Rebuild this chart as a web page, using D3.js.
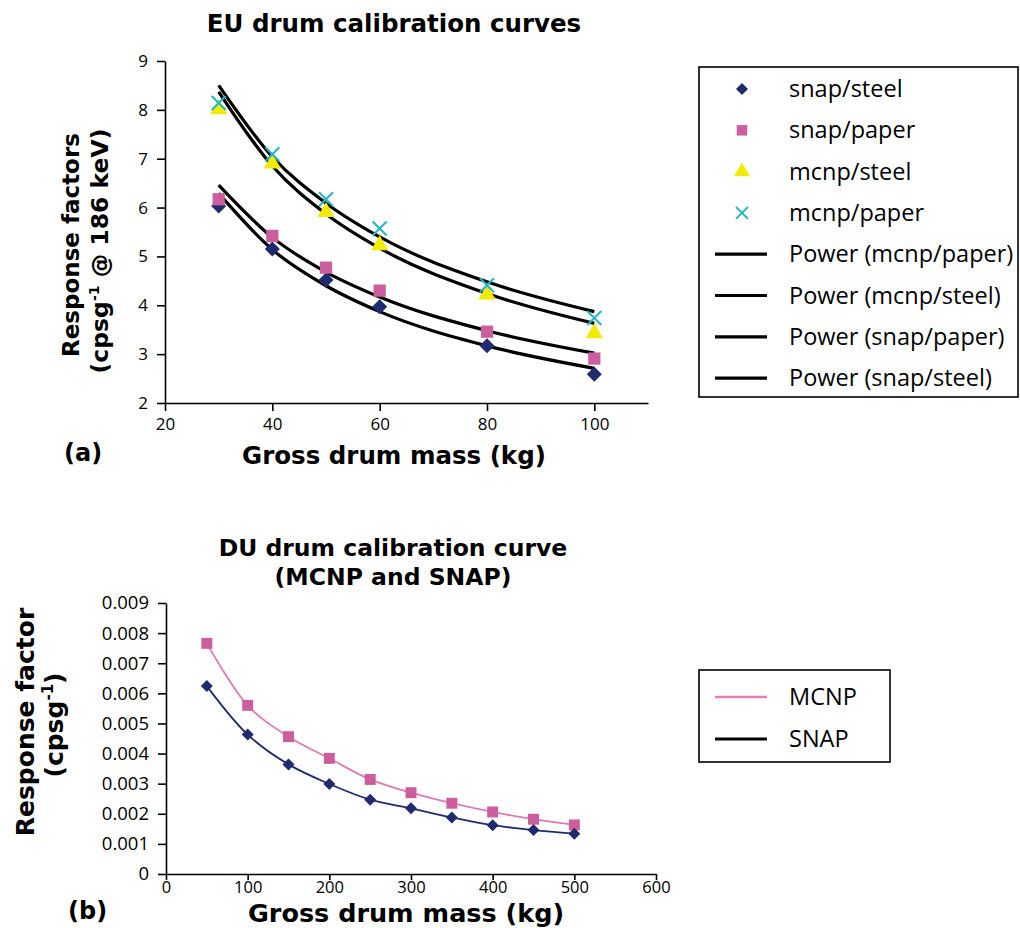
<!DOCTYPE html>
<html>
<head>
<meta charset="utf-8">
<script src="https://cdn.jsdelivr.net/npm/d3@7"></script>
<style>
  body { margin: 0; background: #fff; }
  svg { font-family: "Open Sans", "Noto Sans", sans-serif; }
  .bold { font-family: "DejaVu Sans", sans-serif; font-weight: 700; }
</style>
</head>
<body>
<div id="chart"></div>
<script>
// ---- data (a): EU drums ----
const massEU = [30, 40, 50, 60, 80, 100];
const snapSteel = [6.03, 5.15, 4.52, 3.97, 3.17, 2.59];
const snapPaper = [6.17, 5.42, 4.77, 4.30, 3.46, 2.91];
const mcnpSteel = [8.01, 6.90, 5.91, 5.23, 4.22, 3.43];
const mcnpPaper = [8.14, 7.09, 6.17, 5.57, 4.41, 3.74];
// power trend lines at the same masses
const trendMcnpPaper = [8.50, 7.04, 6.09, 5.40, 4.48, 3.87];
const trendMcnpSteel = [8.37, 6.85, 5.87, 5.17, 4.24, 3.63];
const trendSnapPaper = [6.46, 5.39, 4.68, 4.17, 3.48, 3.02];
const trendSnapSteel = [6.29, 5.14, 4.40, 3.87, 3.17, 2.71];
const ticksXa = [20, 40, 60, 80, 100];
const ticksYa = [2, 3, 4, 5, 6, 7, 8, 9];

// ---- data (b): DU drums ----
const massDU = [50, 100, 150, 200, 250, 300, 350, 400, 450, 500];
const mcnpDU = [0.00766, 0.00560, 0.00456, 0.00384, 0.00314, 0.00270, 0.00235, 0.00206, 0.00182, 0.00163];
const snapDU = [0.00624, 0.00463, 0.00364, 0.00299, 0.00247, 0.00218, 0.00188, 0.00162, 0.00146, 0.00134];
const ticksXb = [0, 100, 200, 300, 400, 500, 600];
const ticksYb = [0, 0.001, 0.002, 0.003, 0.004, 0.005, 0.006, 0.007, 0.008, 0.009];

const navy = "#1f2b6e", pink = "#cc5e9e", yellow = "#f2ea00", cyan = "#22b5c8";

const svg = d3.select("#chart").append("svg")
    .attr("width", 1020)
    .attr("height", 928);

// diamond shaped like a rotated square
const diamondPath = r => `M0,${-r}L${r},0L0,${r}L${-r},0Z`;

function styleAxis(g, size) {
    g.selectAll("text").attr("font-size", size).attr("font-family", "Open Sans").attr("fill", "#000");
    g.selectAll(".domain, .tick line").attr("stroke", "#000").attr("stroke-width", 1.6);
}

// ===================== chart (a) =====================
const xa = d3.scaleLinear().domain([20, 110]).range([165, 648]);
const ya = d3.scaleLinear().domain([2, 9]).range([403, 61]);

const ga = svg.append("g");

ga.append("g")
    .attr("transform", "translate(0,403)")
    .call(d3.axisBottom(xa).tickValues(ticksXa).tickSize(8).tickSizeOuter(0).tickPadding(7))
    .call(g => styleAxis(g, 17));

ga.append("g")
    .attr("transform", "translate(165,0)")
    .call(d3.axisLeft(ya).tickValues(ticksYa).tickFormat(d3.format("d")).tickSize(8).tickSizeOuter(0).tickPadding(9))
    .call(g => styleAxis(g, 17));

const trendLine = d3.line()
    .x((d, i) => xa(massEU[i]))
    .y(d => ya(d))
    .curve(d3.curveMonotoneX);

[trendMcnpPaper, trendMcnpSteel, trendSnapPaper, trendSnapSteel].forEach(t => {
    ga.append("path")
        .attr("d", trendLine(t))
        .attr("fill", "none")
        .attr("stroke", "#000")
        .attr("stroke-width", 3.2);
});

const square = d3.symbol().type(d3.symbolSquare).size(150);
const triangle = d3.symbol().type(d3.symbolTriangle).size(130);

function drawSymbols(g, xs, vals, sym, color, xs2, ys2) {
    g.selectAll(null)
        .data(vals)
        .enter()
        .append("path")
        .attr("d", sym)
        .attr("transform", (d, i) => `translate(${xs2(xs[i])},${ys2(d)})`)
        .attr("fill", color);
}

function drawCross(g, xs, vals, color, size, xs2, ys2) {
    g.selectAll(null).data(vals).enter().append("path")
        .attr("transform", (d, i) => `translate(${xs2(xs[i])},${ys2(d)})`)
        .attr("d", `M${-size},${-size}L${size},${size}M${-size},${size}L${size},${-size}`)
        .attr("stroke", color)
        .attr("stroke-width", 2);
}

drawSymbols(ga, massEU, snapSteel, diamondPath(7.5), navy, xa, ya);
drawSymbols(ga, massEU, snapPaper, square, pink, xa, ya);
drawSymbols(ga, massEU, mcnpSteel, triangle, yellow, xa, ya);
drawCross(ga, massEU, mcnpPaper, cyan, 7, xa, ya);

// titles (a)
svg.append("text").attr("class", "bold")
    .attr("x", 394).attr("y", 32)
    .attr("text-anchor", "middle")
    .attr("font-size", 24.5)
    .text("EU drum calibration curves");

svg.append("text").attr("class", "bold")
    .attr("x", 394).attr("y", 464)
    .attr("text-anchor", "middle")
    .attr("font-size", 24.5)
    .text("Gross drum mass (kg)");

svg.append("text").attr("class", "bold")
    .attr("x", 64).attr("y", 461)
    .attr("font-size", 24)
    .text("(a)");

svg.append("text").attr("class", "bold")
    .attr("transform", "translate(79,245) rotate(-90)")
    .attr("text-anchor", "middle")
    .attr("font-size", 23)
    .text("Response factors");

const yt2 = svg.append("text").attr("class", "bold")
    .attr("transform", "translate(108,251) rotate(-90)")
    .attr("text-anchor", "middle")
    .attr("font-size", 23.5);
yt2.append("tspan").text("(cpsg");
yt2.append("tspan").attr("font-size", 14).attr("dy", -9).text("-1");
yt2.append("tspan").attr("dy", 9).text(" @ 186 keV)");

// legend (a)
const legA = svg.append("g");
legA.append("rect")
    .attr("x", 699).attr("y", 67).attr("width", 319).attr("height", 330)
    .attr("fill", "none").attr("stroke", "#000").attr("stroke-width", 1.6);

const legAItems = [
    { label: "snap/steel", kind: "diamond", color: navy },
    { label: "snap/paper", kind: "square", color: pink },
    { label: "mcnp/steel", kind: "triangle", color: yellow },
    { label: "mcnp/paper", kind: "cross", color: cyan },
    { label: "Power (mcnp/paper)", kind: "line", color: "#000" },
    { label: "Power (mcnp/steel)", kind: "line", color: "#000" },
    { label: "Power (snap/paper)", kind: "line", color: "#000" },
    { label: "Power (snap/steel)", kind: "line", color: "#000" }
];

legAItems.forEach((it, i) => {
    const cy = 89 + i * 41.3;
    const row = legA.append("g").attr("transform", `translate(742,${cy})`);
    if (it.kind === "diamond") row.append("path").attr("d", diamondPath(6)).attr("fill", it.color);
    if (it.kind === "square") row.append("path").attr("d", d3.symbol().type(d3.symbolSquare).size(110)).attr("fill", it.color);
    if (it.kind === "triangle") row.append("path").attr("d", d3.symbol().type(d3.symbolTriangle).size(110)).attr("fill", it.color);
    if (it.kind === "cross") row.append("path").attr("d", "M-6,-6L6,6M-6,6L6,-6").attr("stroke", it.color).attr("stroke-width", 2);
    if (it.kind === "line") row.append("line").attr("x1", -27).attr("x2", 25).attr("stroke", it.color).attr("stroke-width", 3.2);
    row.append("text")
        .attr("x", 47).attr("y", 8)
        .attr("font-size", 23.5)
        .text(it.label);
});

// ===================== chart (b) =====================
const xb = d3.scaleLinear().domain([0, 600]).range([166, 656]);
const yb = d3.scaleLinear().domain([0, 0.009]).range([874, 603]);

const gb = svg.append("g");

gb.append("g")
    .attr("transform", "translate(0,874)")
    .call(d3.axisBottom(xb).tickValues(ticksXb).tickSize(6).tickSizeOuter(0).tickPadding(1))
    .call(g => styleAxis(g, 16.5));

gb.append("g")
    .attr("transform", "translate(166,0)")
    .call(d3.axisLeft(yb).tickValues(ticksYb).tickFormat(d => d === 0 ? "0" : d3.format(".3f")(d)).tickSize(8).tickSizeOuter(0).tickPadding(9))
    .call(g => styleAxis(g, 18.5));

const lineB = d3.line()
    .x((d, i) => xb(massDU[i]))
    .y(d => yb(d))
    .curve(d3.curveCatmullRom);

gb.append("path").attr("d", lineB(mcnpDU))
    .attr("fill", "none").attr("stroke", "#e07ab6").attr("stroke-width", 1.8);
gb.append("path").attr("d", lineB(snapDU))
    .attr("fill", "none").attr("stroke", navy).attr("stroke-width", 1.8);

drawSymbols(gb, massDU, mcnpDU, d3.symbol().type(d3.symbolSquare).size(120), pink, xb, yb);
drawSymbols(gb, massDU, snapDU, diamondPath(6), navy, xb, yb);

// titles (b)
svg.append("text").attr("class", "bold")
    .attr("x", 393).attr("y", 556)
    .attr("text-anchor", "middle")
    .attr("font-size", 23.5)
    .text("DU drum calibration curve");
svg.append("text").attr("class", "bold")
    .attr("x", 393).attr("y", 585)
    .attr("text-anchor", "middle")
    .attr("font-size", 23.5)
    .text("(MCNP and SNAP)");

svg.append("text").attr("class", "bold")
    .attr("x", 406).attr("y", 921.5)
    .attr("text-anchor", "middle")
    .attr("font-size", 25.5)
    .text("Gross drum mass (kg)");

svg.append("text").attr("class", "bold")
    .attr("x", 68).attr("y", 919)
    .attr("font-size", 24)
    .text("(b)");

svg.append("text").attr("class", "bold")
    .attr("transform", "translate(34,722) rotate(-90)")
    .attr("text-anchor", "middle")
    .attr("font-size", 25)
    .text("Response factor");

const yb2 = svg.append("text").attr("class", "bold")
    .attr("transform", "translate(63,725) rotate(-90)")
    .attr("text-anchor", "middle")
    .attr("font-size", 25);
yb2.append("tspan").text("(cpsg");
yb2.append("tspan").attr("font-size", 15).attr("dy", -10).text("-1");
yb2.append("tspan").attr("dy", 10).text(")");

// legend (b)
const legB = svg.append("g");
legB.append("rect")
    .attr("x", 699).attr("y", 670).attr("width", 191).attr("height", 92)
    .attr("fill", "none").attr("stroke", "#000").attr("stroke-width", 1.6);

const legBItems = [
    { label: "MCNP", color: "#e87cba", w: 2.5 },
    { label: "SNAP", color: "#000", w: 3.2 }
];
legBItems.forEach((it, i) => {
    const row = legB.append("g").attr("transform", `translate(742,${697 + i * 42})`);
    row.append("line").attr("x1", -27).attr("x2", 25).attr("stroke", it.color).attr("stroke-width", it.w);
    row.append("text").attr("x", 47).attr("y", 8).attr("font-size", 23.5).text(it.label);
});
</script>
</body>
</html>
